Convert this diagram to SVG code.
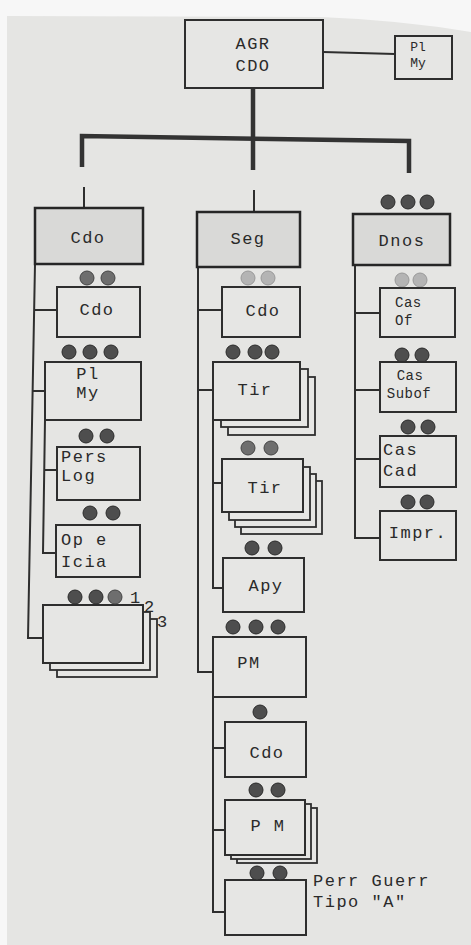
<svg xmlns="http://www.w3.org/2000/svg" width="471" height="945" viewBox="0 0 471 945">
<style>
  .box{fill:#e6e6e4;stroke:#2e2e2e;stroke-width:2}
  .top{fill:#d9d9d7;stroke:#262626;stroke-width:2.5}
  .layer{fill:#e6e6e4;stroke:#2e2e2e;stroke-width:1.8}
  .t{font-family:"Liberation Mono","Courier New",monospace;font-size:17px;fill:#2a2a2a;letter-spacing:1.5px}
  .m{text-anchor:middle}
  .s{font-size:14px;letter-spacing:0.5px}
  .xs{font-size:13px;letter-spacing:0}
  .dk{fill:#4e4e4e;stroke:#2a2a2a;stroke-width:1}
  .md{fill:#6e6e6e;stroke:#444;stroke-width:1}
  .lt{fill:#b4b4b4;stroke:#999;stroke-width:1}
  .ln{fill:none;stroke:#2e2e2e;stroke-width:2}
  .thick{fill:none;stroke:#333;stroke-width:4.5}
</style>
<rect x="0" y="0" width="471" height="945" fill="#f7f7f7"/>
<path d="M7,16 L320,17 Q400,20 471,32 L471,945 L7,945 Z" fill="#e5e5e3"/>

<g id="connectors">
  <path class="thick" d="M253,88 L253,170"/>
  <path class="thick" d="M82,167 L82,136 L409,141 L409,173"/>
  <path class="ln" d="M84,187 L84,208"/>
  <path class="ln" d="M254,190 L254,212"/>
  <path class="ln" d="M323,52 L395,54"/>
  <path class="ln" d="M35,264 L28,638 L43,638"/>
  <path class="ln" d="M34,310 L57,310"/>
  <path class="ln" d="M32,391 L45,391"/>
  <path class="ln" d="M45,420 L43,553 L56,553"/>
  <path class="ln" d="M44,470 L57,470"/>
  <path class="ln" d="M198,267 L198,672 L213,672"/>
  <path class="ln" d="M198,310 L222,310"/>
  <path class="ln" d="M198,390 L213,390"/>
  <path class="ln" d="M213,420 L213,588 L223,588"/>
  <path class="ln" d="M213,483 L222,483"/>
  <path class="ln" d="M213,697 L213,912 L225,912"/>
  <path class="ln" d="M213,748 L225,748"/>
  <path class="ln" d="M213,830 L225,830"/>
  <path class="ln" d="M355,265 L355,538 L380,538"/>
  <path class="ln" d="M355,313 L380,313"/>
  <path class="ln" d="M355,390 L380,390"/>
  <path class="ln" d="M355,459 L380,459"/>
</g>

<g id="agr-cdo">
  <rect class="box" x="185" y="20" width="138" height="68"/>
  <text class="t m" x="253" y="49">AGR</text>
  <text class="t m" x="253" y="71">CDO</text>
</g>
<g id="pl-my-top">
  <rect class="box" x="395" y="36" width="57" height="43"/>
  <text class="t m xs" x="418" y="51">Pl</text>
  <text class="t m xs" x="418" y="67">My</text>
</g>

<g id="cdo-main">
  <rect class="top" x="35" y="208" width="108" height="56"/>
  <text class="t m" x="88" y="243">Cdo</text>
</g>
<g id="seg-main">
  <rect class="top" x="197" y="212" width="103" height="55"/>
  <text class="t m" x="248" y="244">Seg</text>
</g>
<g id="dnos-main">
  <circle class="dk" cx="388" cy="202" r="7"/><circle class="dk" cx="408" cy="202" r="7"/><circle class="dk" cx="427" cy="202" r="7"/>
  <rect class="top" x="353" y="214" width="97" height="51"/>
  <text class="t m" x="402" y="246">Dnos</text>
</g>

<g id="l-cdo">
  <circle class="md" cx="87" cy="278" r="7"/><circle class="md" cx="108" cy="278" r="7"/>
  <rect class="box" x="57" y="287" width="83" height="50"/>
  <text class="t m" x="97" y="315">Cdo</text>
</g>
<g id="l-plmy">
  <circle class="dk" cx="69" cy="352" r="7"/><circle class="dk" cx="90" cy="352" r="7"/><circle class="dk" cx="111" cy="352" r="7"/>
  <rect class="box" x="45" y="362" width="96" height="58"/>
  <text class="t m" x="88" y="379">Pl</text>
  <text class="t m" x="88" y="398">My</text>
</g>
<g id="l-perslog">
  <circle class="dk" cx="86" cy="436" r="7"/><circle class="dk" cx="107" cy="436" r="7"/>
  <rect class="box" x="57" y="447" width="83" height="53"/>
  <text class="t" x="61" y="462">Pers</text>
  <text class="t" x="61" y="481">Log</text>
</g>
<g id="l-opicia">
  <circle class="dk" cx="90" cy="513" r="7"/><circle class="dk" cx="113" cy="513" r="7"/>
  <rect class="box" x="56" y="525" width="84" height="52"/>
  <text class="t" x="61" y="545">Op e</text>
  <text class="t" x="61" y="567">Icia</text>
</g>
<g id="l-stack">
  <rect class="layer" x="57" y="619" width="100" height="58"/>
  <rect class="layer" x="50" y="612" width="100" height="58"/>
  <rect class="box" x="43" y="605" width="100" height="58"/>
  <circle class="dk" cx="75" cy="597" r="7"/><circle class="dk" cx="96" cy="597" r="7"/><circle class="md" cx="115" cy="597" r="7"/>
  <text class="t" x="130" y="603">1</text>
  <text class="t" x="144" y="612">2</text>
  <text class="t" x="157" y="627">3</text>
</g>

<g id="m-cdo">
  <circle class="lt" cx="248" cy="278" r="7"/><circle class="lt" cx="268" cy="278" r="7"/>
  <rect class="box" x="222" y="287" width="78" height="50"/>
  <text class="t m" x="263" y="316">Cdo</text>
</g>
<g id="m-tir1">
  <rect class="layer" x="228" y="377" width="87" height="58"/>
  <rect class="layer" x="221" y="369" width="87" height="58"/>
  <rect class="box" x="213" y="362" width="87" height="58"/>
  <circle class="dk" cx="233" cy="352" r="7"/><circle class="dk" cx="255" cy="352" r="7"/><circle class="dk" cx="272" cy="352" r="7"/>
  <text class="t m" x="255" y="395">Tir</text>
</g>
<g id="m-tir2">
  <rect class="layer" x="241" y="481" width="81" height="53"/>
  <rect class="layer" x="235" y="474" width="81" height="53"/>
  <rect class="layer" x="229" y="467" width="81" height="53"/>
  <rect class="box" x="222" y="459" width="81" height="53"/>
  <circle class="md" cx="248" cy="448" r="7"/><circle class="md" cx="271" cy="448" r="7"/>
  <text class="t m" x="265" y="493">Tir</text>
</g>
<g id="m-apy">
  <circle class="dk" cx="252" cy="548" r="7"/><circle class="dk" cx="275" cy="548" r="7"/>
  <rect class="box" x="223" y="558" width="81" height="54"/>
  <text class="t m" x="266" y="591">Apy</text>
</g>
<g id="m-pm">
  <circle class="dk" cx="233" cy="627" r="7"/><circle class="dk" cx="256" cy="627" r="7"/><circle class="dk" cx="278" cy="627" r="7"/>
  <rect class="box" x="213" y="637" width="93" height="60"/>
  <text class="t m" x="249" y="668">PM</text>
</g>
<g id="m-cdo2">
  <circle class="dk" cx="260" cy="712" r="7"/>
  <rect class="box" x="225" y="722" width="81" height="55"/>
  <text class="t m" x="267" y="758">Cdo</text>
</g>
<g id="m-pm2">
  <rect class="layer" x="237" y="808" width="80" height="55"/>
  <rect class="layer" x="231" y="804" width="80" height="55"/>
  <rect class="box" x="225" y="800" width="80" height="55"/>
  <circle class="dk" cx="256" cy="790" r="7"/><circle class="dk" cx="278" cy="790" r="7"/>
  <text class="t m" x="268" y="831">P M</text>
</g>
<g id="m-perr">
  <rect class="box" x="225" y="880" width="81" height="55"/>
  <circle class="dk" cx="257" cy="873" r="7"/><circle class="dk" cx="280" cy="873" r="7"/>
  <text class="t" x="313" y="886">Perr Guerr</text>
  <text class="t" x="313" y="907">Tipo "A"</text>
</g>

<g id="r-casof">
  <circle class="lt" cx="402" cy="280" r="7"/><circle class="lt" cx="420" cy="280" r="7"/>
  <rect class="box" x="380" y="288" width="75" height="49"/>
  <text class="t s" x="395" y="307">Cas</text>
  <text class="t s" x="395" y="325">Of</text>
</g>
<g id="r-cassubof">
  <circle class="dk" cx="402" cy="355" r="7"/><circle class="dk" cx="422" cy="355" r="7"/>
  <rect class="box" x="380" y="362" width="76" height="50"/>
  <text class="t m s" x="410" y="380">Cas</text>
  <text class="t m s" x="409" y="398">Subof</text>
</g>
<g id="r-cascad">
  <circle class="dk" cx="408" cy="427" r="7"/><circle class="dk" cx="428" cy="427" r="7"/>
  <rect class="box" x="380" y="436" width="76" height="51"/>
  <text class="t" x="383" y="455">Cas</text>
  <text class="t" x="383" y="476">Cad</text>
</g>
<g id="r-impr">
  <circle class="dk" cx="408" cy="502" r="7"/><circle class="dk" cx="427" cy="502" r="7"/>
  <rect class="box" x="380" y="511" width="76" height="49"/>
  <text class="t m" x="418" y="538">Impr.</text>
</g>
</svg>
